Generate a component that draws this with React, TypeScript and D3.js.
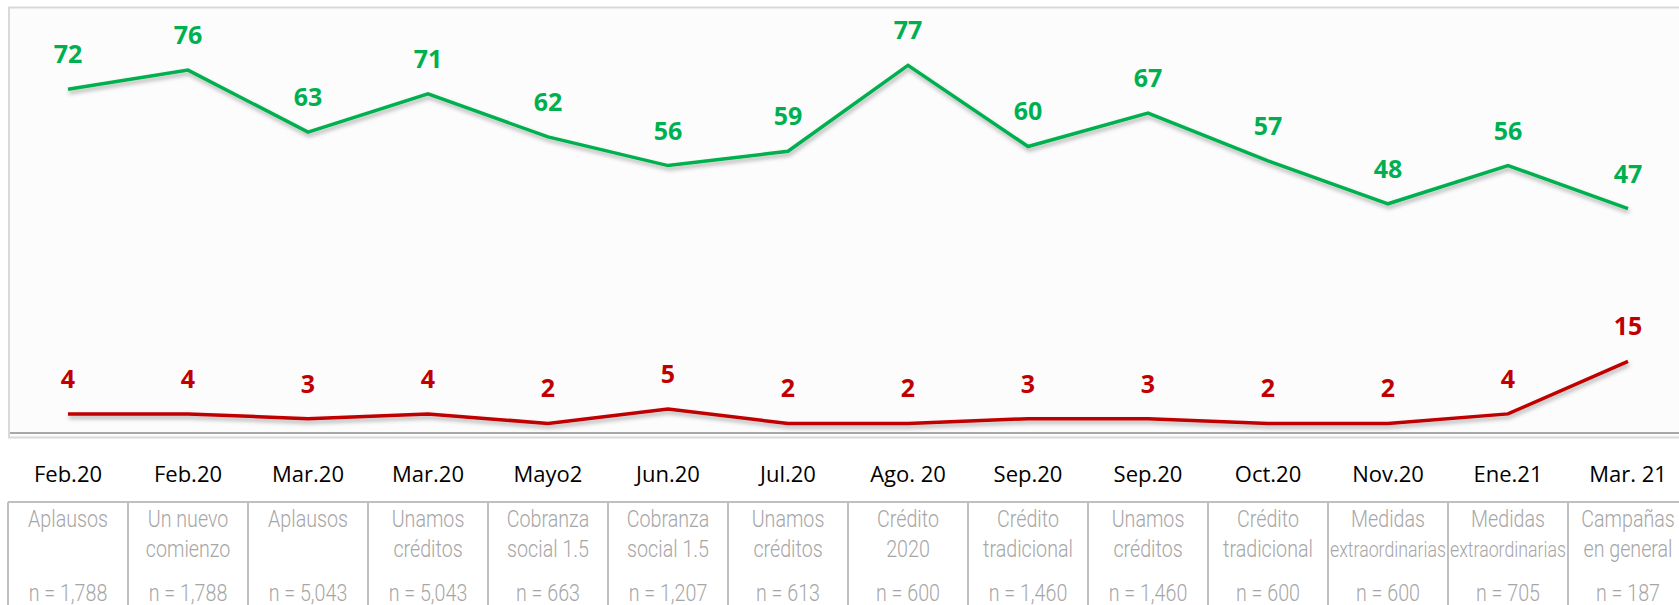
import React, { useEffect, useRef } from 'react';
import * as d3 from 'd3';

const categories = ['Feb.20', 'Feb.20', 'Mar.20', 'Mar.20', 'Mayo2', 'Jun.20', 'Jul.20', 'Ago. 20', 'Sep.20', 'Sep.20', 'Oct.20', 'Nov.20', 'Ene.21', 'Mar. 21'];
const greenValues = [72, 76, 63, 71, 62, 56, 59, 77, 60, 67, 57, 48, 56, 47];
const redValues = [4, 4, 3, 4, 2, 5, 2, 2, 3, 3, 2, 2, 4, 15];
const campaignLine1 = ['Aplausos', 'Un nuevo', 'Aplausos', 'Unamos', 'Cobranza', 'Cobranza', 'Unamos', 'Crédito', 'Crédito', 'Unamos', 'Crédito', 'Medidas', 'Medidas', 'Campañas'];
const campaignLine2 = ['', 'comienzo', '', 'créditos', 'social 1.5', 'social 1.5', 'créditos', '2020', 'tradicional', 'créditos', 'tradicional', 'extraordinarias', 'extraordinarias', 'en general'];
const sampleSizes = ['1,788', '1,788', '5,043', '5,043', '663', '1,207', '613', '600', '1,460', '1,460', '600', '600', '705', '187'];

const W = 1679;
const H = 605;

const App = () => {
  const svgRef = useRef<SVGSVGElement>(null);

  useEffect(() => {
    const svg = d3.select(svgRef.current);
    svg.selectAll('*').remove();

    const idx = categories.map((_, i) => i);
    const x = d3.scalePoint<number>().domain(idx).range([68, 1628]);
    const y = d3.scaleLinear().domain([0, 89]).range([433, 8]);
    const step = x.step();

    const defs = svg.append('defs');
    const f = defs.append('filter').attr('id', 'shadow')
      .attr('x', '-5%').attr('y', '-20%').attr('width', '110%').attr('height', '160%');
    f.append('feDropShadow')
      .attr('dx', 1).attr('dy', 3).attr('stdDeviation', 2)
      .attr('flood-color', '#000').attr('flood-opacity', 0.3);

    // plot frame
    svg.append('rect')
      .attr('x', 9).attr('y', 7.5).attr('width', W).attr('height', 430)
      .attr('fill', '#fcfcfc').attr('stroke', '#d9d9d9').attr('stroke-width', 2);
    svg.append('line')
      .attr('x1', 10).attr('x2', W).attr('y1', 433).attr('y2', 433)
      .attr('stroke', '#8c8c8c').attr('stroke-width', 1.5);

    const line = d3.line<number>()
      .x((_, i) => x(i) as number)
      .y(d => y(d));

    const series = [
      { values: greenValues, color: '#00b050' },
      { values: redValues, color: '#c00000' },
    ];

    series.forEach(s => {
      svg.append('path')
        .datum(s.values)
        .attr('fill', 'none')
        .attr('stroke', s.color)
        .attr('stroke-width', 3.5)
        .attr('filter', 'url(#shadow)')
        .attr('d', line);

      svg.append('g').selectAll('text')
        .data(s.values)
        .enter()
        .append('text')
        .attr('x', (_, i) => x(i) as number)
        .attr('y', d => y(d) - 26)
        .attr('text-anchor', 'middle')
        .attr('font-family', '"Open Sans", sans-serif')
        .attr('font-weight', 700)
        .attr('font-size', 25)
        .attr('fill', s.color)
        .text(d => d);
    });

    // category labels
    svg.append('g').selectAll('text')
      .data(categories)
      .enter()
      .append('text')
      .attr('x', (_, i) => x(i) as number)
      .attr('y', 482)
      .attr('text-anchor', 'middle')
      .attr('font-family', '"Open Sans", sans-serif')
      .attr('font-size', 22)
      .attr('fill', '#000')
      .text(d => d);

    // table under the chart
    const table = svg.append('g');
    table.append('line')
      .attr('x1', 8).attr('x2', W).attr('y1', 502).attr('y2', 502)
      .attr('stroke', '#bfbfbf').attr('stroke-width', 2);
    const edge = (i: number) => (x(0) as number) - step / 2 + i * step;
    table.selectAll('line.v')
      .data(d3.range(categories.length + 1))
      .enter()
      .append('line')
      .attr('class', 'v')
      .attr('x1', i => edge(i))
      .attr('x2', i => edge(i))
      .attr('y1', 502).attr('y2', H)
      .attr('stroke', '#bfbfbf').attr('stroke-width', 2);

    const squeeze = 0.82;
    const cellText = (arr: string[], yPos: number) => {
      table.append('g').selectAll('text')
        .data(arr)
        .enter()
        .append('text')
        .attr('transform', (_, i) => `translate(${x(i)},${yPos}) scale(${squeeze},1)`)
        .attr('text-anchor', 'middle')
        .attr('font-family', 'Roboto, sans-serif')
        .attr('font-weight', 300)
        .attr('font-size', 24)
        .attr('fill', '#a6a6a6')
        .text(d => d)
        .each(function () {
          const el = this as SVGTextElement;
          const len = el.getComputedTextLength() * squeeze;
          if (len > step - 4) el.setAttribute('font-size', String(24 * (step - 4) / len));
        });
    };
    cellText(campaignLine1, 527);
    cellText(campaignLine2, 557);
    cellText(sampleSizes.map(n => `n = ${n}`), 601);
  }, []);

  return (
    <svg
      ref={svgRef}
      width={W}
      height={H}
      style={{ position: 'absolute', left: 0, top: 0, background: '#fff' }}
    />
  );
};

export default App;
